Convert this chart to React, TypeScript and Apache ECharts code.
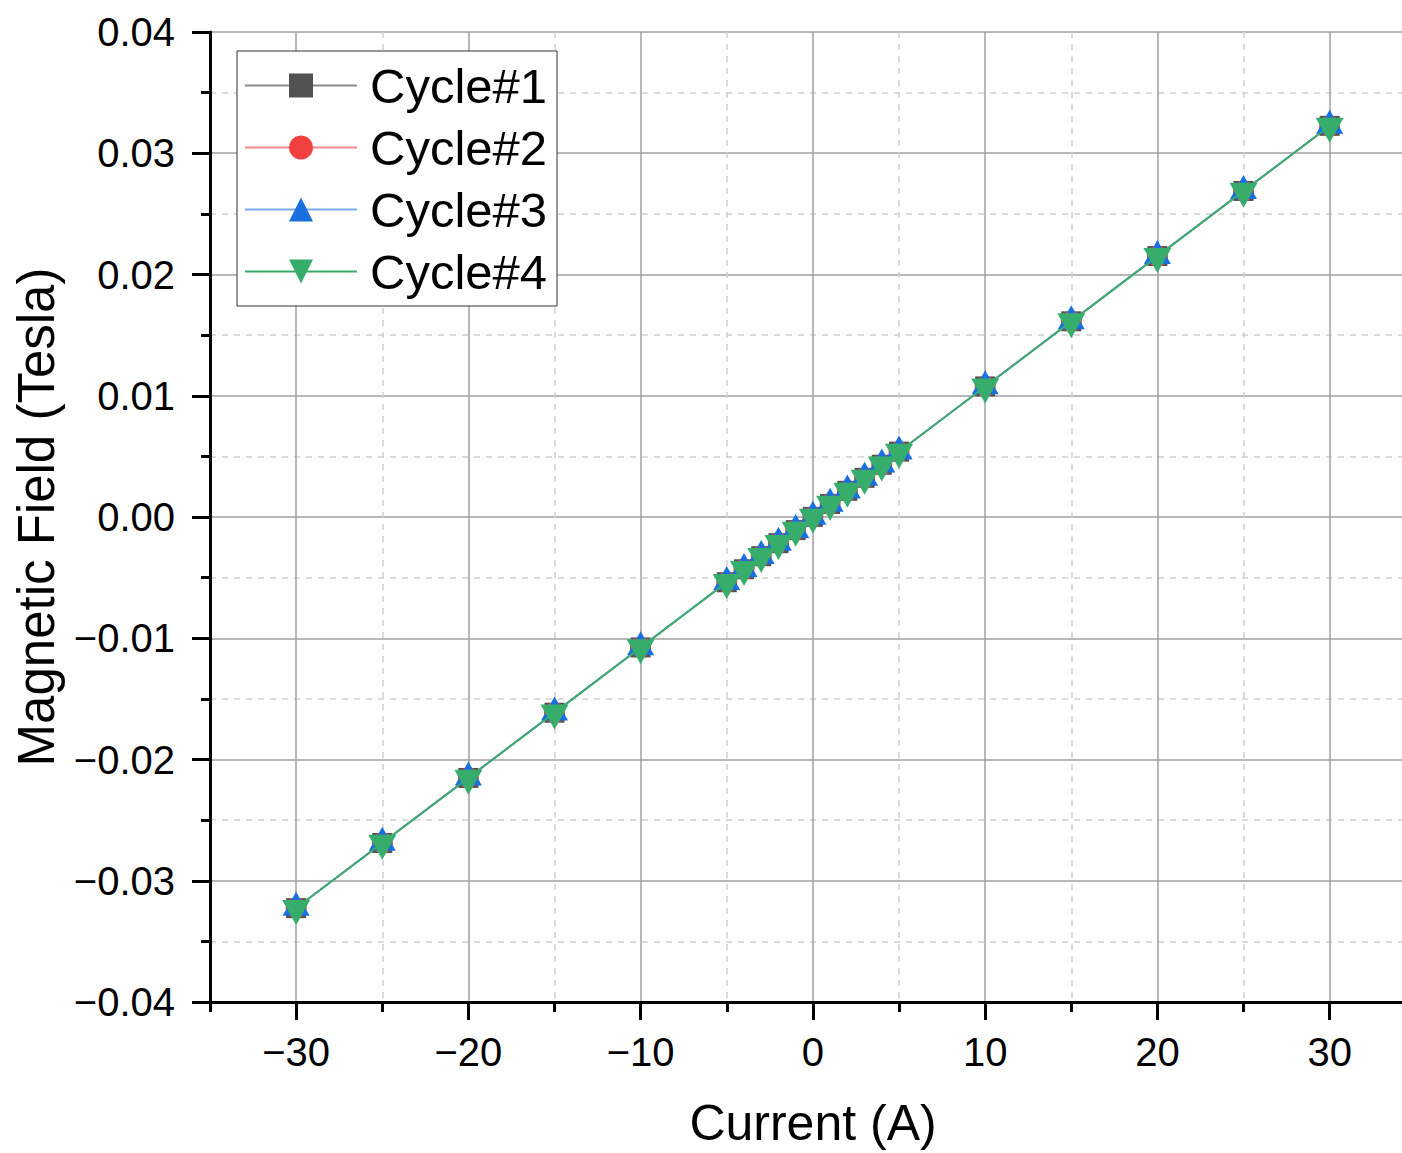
import React, { useEffect, useRef } from "react";
import * as echarts from "echarts";

const currents = [-30, -25, -20, -15, -10, -5, -4, -3, -2, -1, 0, 1, 2, 3, 4, 5, 10, 15, 20, 25, 30];
const cycle1 = [-0.03226, -0.02689, -0.02152, -0.01614, -0.01076, -0.00538, -0.00431, -0.00323, -0.00216, -0.00108, 0.00001, 0.00108, 0.00216, 0.00323, 0.00431, 0.00539, 0.01077, 0.01614, 0.02152, 0.02689, 0.03226];
const cycle2 = [-0.03225, -0.02688, -0.02151, -0.01613, -0.01075, -0.00537, -0.0043, -0.00322, -0.00215, -0.00107, 0.00001, 0.00108, 0.00216, 0.00323, 0.00431, 0.00538, 0.01076, 0.01613, 0.02151, 0.02688, 0.03225];
const cycle3 = [-0.03224, -0.02687, -0.0215, -0.01612, -0.01074, -0.00536, -0.00429, -0.00322, -0.00214, -0.00107, 0.00002, 0.00109, 0.00217, 0.00324, 0.00432, 0.00539, 0.01077, 0.01614, 0.02152, 0.02689, 0.03226];
const cycle4 = [-0.03226, -0.02689, -0.02152, -0.01614, -0.01076, -0.00538, -0.00431, -0.00323, -0.00216, -0.00108, 0.0, 0.00107, 0.00215, 0.00322, 0.0043, 0.00537, 0.01075, 0.01613, 0.0215, 0.02688, 0.03225];
const seriesNames = ["Cycle#1", "Cycle#2", "Cycle#3", "Cycle#4"];
const majorXTicks = [-30, -20, -10, 0, 10, 20, 30];
const minorXTicks = [-35, -25, -15, -5, 5, 15, 25];

const FONT = "'Liberation Sans', Arial, sans-serif";
const minus = (s: string) => s.replace("-", "\u2212");

export default function App() {
  const ref = useRef<HTMLDivElement>(null);
  useEffect(() => {
    if (!ref.current) return;
    const chart = echarts.init(ref.current, null, { renderer: "svg" });
    const datasets = [cycle1, cycle2, cycle3, cycle4];
    const colors = ["#515151", "#F14040", "#1A6FDF", "#37AD6B"];
    const lineColors = ["#8a8a8a", "#f58a8a", "#7aa8ec", "#37AD6B"];
    const symbols = ["rect", "circle", "triangle", "triangle"];
    const sizes: any[] = [20, 21, [27, 24], [28, 25]];
    const rotates = [0, 0, 0, 180];
    const offsets: any[] = [[0, 0], [0, 0], [0, "-17%"], [0, "17%"]];
    const series = datasets.map((d, i) => ({
      name: seriesNames[i],
      type: "line",
      data: currents.map((x, j) => [x, d[j]]),
      symbol: symbols[i],
      symbolSize: sizes[i],
      symbolRotate: rotates[i],
      symbolOffset: offsets[i],
      showAllSymbol: true,
      itemStyle: { color: colors[i] },
      lineStyle: { color: lineColors[i], width: 1.8 },
      z: 2 + i,
    }));
    chart.setOption({
      animation: false,
      backgroundColor: "#fff",
      textStyle: { fontFamily: FONT },
      grid: { left: 210, right: 0, top: 32, bottom: 151, containLabel: false, outerBoundsMode: "none" },
      legend: {
        left: 237,
        top: 51,
        orient: "vertical",
        backgroundColor: "#fff",
        borderColor: "#333",
        borderWidth: 1,
        borderRadius: 0,
        padding: [10, 10, 10, 7],
        itemWidth: 112,
        itemHeight: 30,
        itemGap: 13,
        textStyle: { fontSize: 49, color: "#000", fontFamily: FONT, padding: [0, 0, 0, 8] },
        data: seriesNames,
      },
      xAxis: [
        {
          type: "value",
          position: "bottom",
          min: -35,
          max: 34.2,
          interval: 5,
          axisLine: { show: true, onZero: false, lineStyle: { color: "#000", width: 3 } },
          axisTick: { show: true, length: 10, customValues: minorXTicks, lineStyle: { color: "#000", width: 3 } },
          axisLabel: { show: false },
          splitLine: { show: true, lineStyle: { color: "#cfcfcf", width: 1.5, type: [6, 6] } },
          name: "Current (A)",
          nameLocation: "middle",
          nameGap: 96,
          nameTextStyle: { fontSize: 50, color: "#000", fontFamily: FONT, padding: [0, 0, 0, 14] },
        },
        {
          type: "value",
          position: "bottom",
          min: -35,
          max: 34.2,
          interval: 5,
          axisLine: { show: false, onZero: false },
          axisTick: {
            show: true,
            length: 18,
            customValues: majorXTicks,
            lineStyle: { color: "#000", width: 3 },
          },
          axisLabel: {
            show: true,
            customValues: majorXTicks,
            margin: 30,
            fontSize: 40,
            color: "#000",
            fontFamily: FONT,
            formatter: (v: number) => minus(String(v)),
          },
          splitLine: { show: true, lineStyle: { color: "#a0a0a0", width: 1.5 } },
        },
      ],
      yAxis: {
        type: "value",
        min: -0.04,
        max: 0.04,
        interval: 0.01,
        axisLine: { show: true, onZero: false, lineStyle: { color: "#000", width: 3 } },
        axisTick: { show: true, length: 18, lineStyle: { color: "#000", width: 3 } },
        minorTick: { show: true, splitNumber: 2, length: 9, lineStyle: { color: "#000", width: 3 } },
        axisLabel: {
          margin: 35,
          fontSize: 40,
          color: "#000",
          fontFamily: FONT,
          formatter: (v: number) => minus(v.toFixed(2)),
        },
        splitLine: { show: true, lineStyle: { color: "#a0a0a0", width: 1.5 } },
        minorSplitLine: { show: true, lineStyle: { color: "#cfcfcf", width: 1.5, type: [6, 6] } },
        name: "Magnetic Field (Tesla)",
        nameLocation: "middle",
        nameGap: 148,
        nameTextStyle: { fontSize: 51, color: "#000", fontFamily: FONT },
      },
      series,
    });
    return () => chart.dispose();
  }, []);
  return (
    <div
      ref={ref}
      style={{ position: "fixed", left: 0, top: 0, width: 1402, height: 1153, background: "#fff" }}
    />
  );
}
